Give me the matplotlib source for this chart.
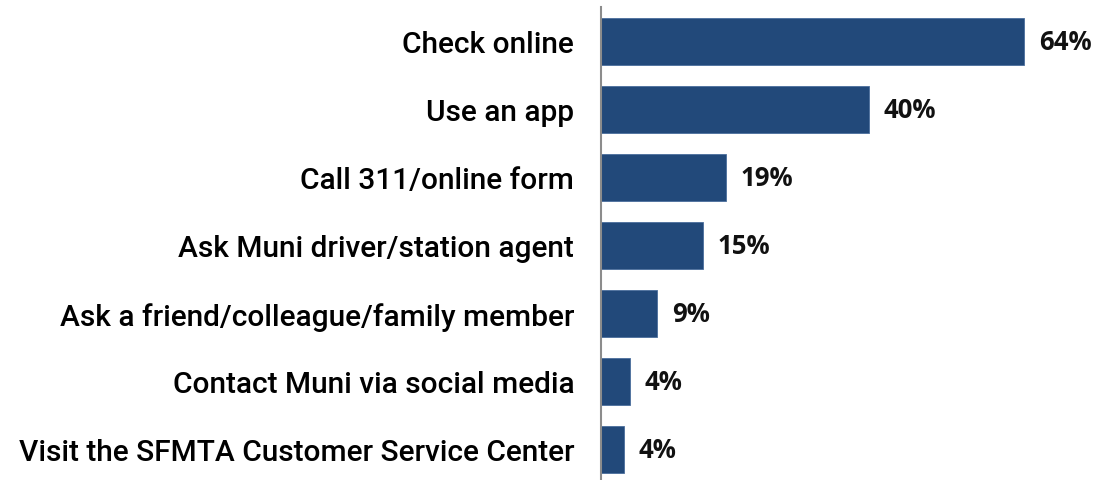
import matplotlib
matplotlib.use("Agg")
import matplotlib.pyplot as plt

categories = [
    "Check online",
    "Use an app",
    "Call 311/online form",
    "Ask Muni driver/station agent",
    "Ask a friend/colleague/family member",
    "Contact Muni via social media",
    "Visit the SFMTA Customer Service Center",
]
values = [64, 40.5, 18.9, 15.4, 8.5, 4.4, 3.5]
value_labels = ["64%", "40%", "19%", "15%", "9%", "4%", "4%"]

fig = plt.figure(figsize=(10.99, 4.81), dpi=100)
ax = fig.add_axes([0.5465, 0.0, 0.4535, 0.983])

pos = list(range(len(categories)))
ax.barh(pos, values, height=0.69, color="#22497a", edgecolor="#4a6e9c", linewidth=0.6)

for p, v, t in zip(pos, values, value_labels):
    ax.text(v + 2.3, p, t, va="center", ha="left", fontsize=18.5,
            fontweight="bold", family="Open Sans", color="#111111")

ax.set_yticks(pos)
ax.set_yticklabels(categories, fontsize=21.5, family="Roboto", fontweight="medium",
                   color="#000000")
ax.tick_params(axis="y", length=0, pad=19)
ax.set_xticks([])
ax.set_xlim(0, 75.3)
ax.set_ylim(6.45, -0.5)

for s in ["top", "right", "bottom"]:
    ax.spines[s].set_visible(False)
ax.spines["left"].set_color("#8c8c8c")
ax.spines["left"].set_linewidth(1.5)

fig.savefig("out.png", dpi=100)
